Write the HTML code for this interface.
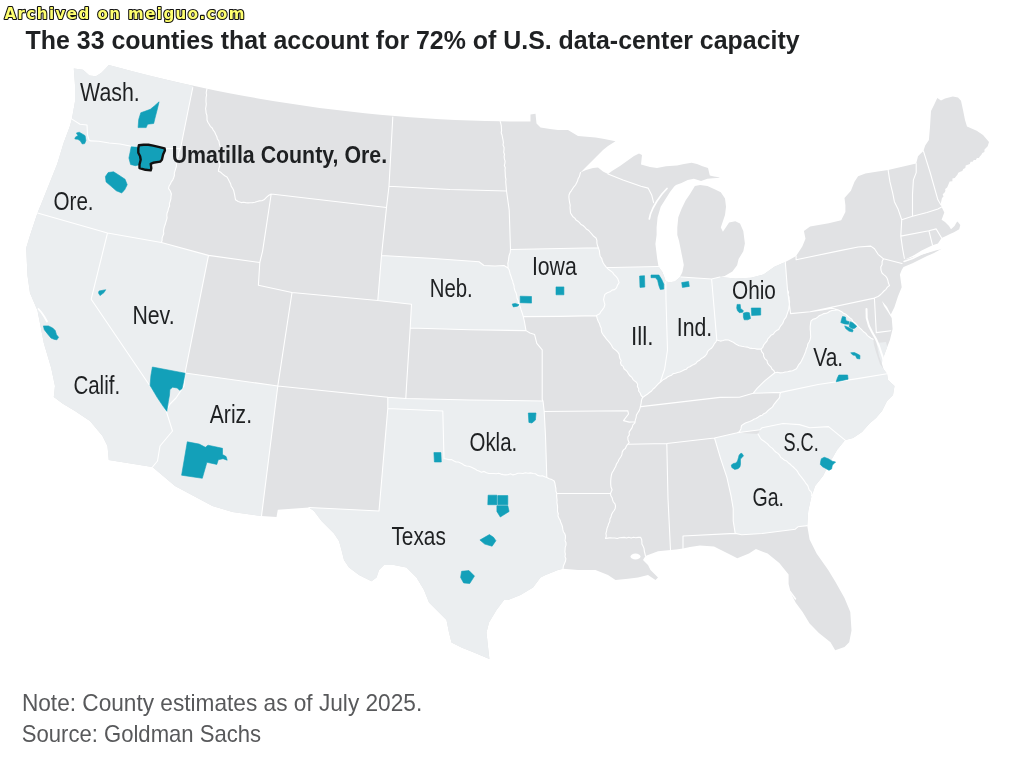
<!DOCTYPE html>
<html><head><meta charset="utf-8"><title>The 33 counties that account for 72% of U.S. data-center capacity</title>
<style>
html,body{margin:0;padding:0;background:#fff;}
body{width:1016px;height:772px;overflow:hidden;position:relative;}
svg{position:absolute;left:0;top:0;}
</style></head><body>
<svg width="1016" height="772" viewBox="0 0 1016 772">
<rect width="1016" height="772" fill="#fff"/>
<text x="25.6" y="48.8" font-family="Liberation Sans, Arial, sans-serif" font-weight="bold" font-size="26.5" fill="#1f2123" textLength="774" lengthAdjust="spacingAndGlyphs">The 33 counties that account for 72% of U.S. data-center capacity</text>
<path d="M73.8,68.6 83.0,69.7 89.4,75.5 95.9,76.2 101.1,73.0 105.6,68.4 108.8,65.0 108.8,64.9 123.9,69.0 138.9,73.0 154.0,76.7 169.0,80.3 184.1,83.8 199.2,87.1 214.2,90.2 229.3,93.2 244.3,96.0 259.4,98.7 274.5,101.2 289.5,103.6 304.6,105.8 319.6,107.9 334.7,109.8 349.8,111.6 364.8,113.3 379.9,114.7 395.0,116.1 410.0,117.3 425.1,118.3 440.1,119.2 455.2,119.9 470.3,120.5 485.3,121.0 500.4,121.3 515.4,121.5 530.5,121.5 530.5,114.5 535.5,113.8 536.5,123.5 540.5,127.5 550.0,129.0 558.0,130.0 568.0,130.0 578.0,136.0 595.5,137.5 603.0,138.8 615.5,141.2 608.0,146.0 603.0,150.0 597.0,156.0 590.5,162.5 585.0,168.0 580.5,172.5 586.0,170.0 593.0,168.0 598.0,167.5 603.0,171.5 608.0,174.0 612.0,171.0 620.0,166.0 627.0,161.0 634.0,156.0 639.0,153.6 642.0,155.0 641.0,164.5 650.0,167.0 657.0,168.0 666.0,166.3 677.0,165.4 684.0,164.0 691.6,162.7 697.0,164.0 702.5,166.3 708.0,168.0 709.8,175.4 714.0,176.5 718.8,177.2 719.8,177.8 713.0,178.3 707.4,178.8 701.1,180.9 693.9,178.8 687.7,179.9 681.5,183.0 676.0,185.0 674.2,186.5 670.0,192.0 665.9,198.5 660.7,206.8 657.6,217.2 656.6,227.5 656.6,235.0 655.4,244.0 657.2,258.8 658.5,266.5 662.4,271.9 664.5,277.5 665.8,281.5 670.0,282.2 674.8,281.5 679.6,277.4 681.0,275.0 682.4,271.9 683.8,265.0 682.6,258.8 679.0,240.7 677.3,235.0 677.3,227.5 678.3,217.2 681.5,208.9 685.6,200.6 689.7,194.4 694.9,186.1 700.1,185.1 707.4,186.1 714.6,189.2 720.8,192.3 725.0,198.5 726.0,206.8 725.0,215.1 722.9,221.3 720.8,227.5 722.9,231.7 729.1,222.4 735.3,221.3 740.0,223.4 743.3,231.0 744.9,243.5 743.3,251.3 738.6,259.0 737.1,265.3 732.4,271.5 724.7,276.1 720.0,277.0 735.5,278.5 751.0,277.7 763.5,274.6 774.4,266.8 785.3,262.1 790.0,259.5 796.1,256.0 802.3,246.6 805.5,238.8 803.9,231.1 810.1,226.4 828.8,223.3 841.2,220.2 845.4,212.0 845.4,205.3 844.5,198.0 850.9,190.8 854.5,181.7 858.1,176.3 865.4,173.6 876.3,171.7 888.1,169.9 916.2,163.6 918.0,156.3 920.7,153.6 923.4,150.9 925.2,145.4 928.9,140.0 930.0,127.0 931.0,111.0 934.5,104.0 937.3,98.1 941.0,100.5 945.0,98.5 952.8,96.6 958.0,97.5 961.0,100.7 963.0,110.0 965.0,120.0 967.0,126.6 976.7,130.8 983.0,135.0 989.0,142.0 988.3,144.2 987.7,146.3 986.0,148.0 984.5,149.5 984.4,151.9 982.3,152.9 981.4,154.8 980.0,156.3 978.9,158.1 976.9,158.1 975.8,159.9 973.8,160.1 972.6,161.7 970.6,161.8 969.8,163.9 967.8,164.8 965.7,165.6 965.3,168.1 963.3,169.0 962.3,170.9 960.2,171.7 958.3,172.7 957.4,174.7 956.1,176.3 954.8,177.9 952.4,178.4 952.4,181.3 949.7,181.5 948.8,183.5 948.0,185.6 947.1,187.6 945.2,189.0 945.4,191.1 944.4,192.7 942.7,194.2 943.5,196.4 942.0,197.9 941.6,199.8 941.0,202.4 941.0,205.0 941.6,207.1 944.3,212.5 941.6,219.8 945.0,222.0 949.0,226.0 951.0,229.2 954.5,226.0 956.5,222.5 957.5,221.5 960.3,225.0 959.2,229.2 954.0,232.3 950.0,234.0 946.0,236.0 941.6,238.0 937.9,243.4 932.5,245.2 921.6,250.6 912.5,256.1 904.4,259.7 941.6,248.8 934.0,253.0 927.0,256.1 912.5,263.3 903.5,267.0 901.7,270.0 899.9,274.5 901.7,287.2 898.0,296.3 894.4,307.2 890.8,314.4 887.0,307.0 882.0,301.0 884.0,306.0 888.0,312.0 891.7,318.0 892.6,329.0 889.9,339.9 887.2,347.1 884.4,354.4 881.7,363.0 883.5,369.0 887.0,373.7 888.0,380.0 894.5,386.0 893.0,395.0 887.0,401.0 882.0,411.0 876.0,418.0 869.5,423.5 862.0,432.0 853.0,438.0 845.1,440.1 837.0,450.0 829.5,463.0 823.0,476.0 815.0,486.0 813.0,492.0 811.5,496.0 808.2,511.0 807.2,525.6 809.6,539.6 816.6,553.6 828.2,570.0 835.2,581.6 844.5,597.9 850.3,611.9 851.5,630.5 849.2,642.2 844.5,646.9 835.2,650.3 830.5,642.2 818.9,632.9 809.6,623.5 802.6,611.9 795.6,602.6 790.9,593.2 788.6,583.9 788.6,574.6 779.3,562.9 767.6,553.6 755.9,549.0 749.0,553.6 737.3,558.3 728.0,553.6 714.0,546.6 700.0,545.5 690.0,547.0 683.0,548.5 676.0,549.5 670.5,550.0 658.0,551.2 648.0,555.0 645.5,556.0 643.0,560.0 648.0,565.0 650.5,570.0 658.0,577.5 655.5,580.0 648.0,575.0 638.0,577.5 628.0,578.8 615.5,580.0 608.0,575.0 595.5,570.0 578.0,570.0 563.0,568.8 558.0,570.0 545.5,575.0 540.5,577.5 533.0,587.5 520.5,595.0 508.0,600.0 504.0,600.0 496.5,610.0 489.0,622.5 486.5,632.5 487.8,645.0 489.4,659.0 474.0,652.5 461.5,647.5 451.5,642.5 449.0,632.5 446.5,620.0 439.0,612.5 429.0,602.5 424.0,590.0 416.5,577.5 406.5,567.5 394.0,565.0 384.0,565.0 379.0,570.0 376.5,577.5 371.5,581.2 359.0,575.0 349.0,567.5 344.0,560.0 341.5,550.0 339.0,541.0 334.0,533.5 321.5,521.0 314.0,511.0 309.0,507.5 277.8,509.8 276.5,517.0 261.5,516.0 254.0,515.0 232.5,512.0 212.5,506.0 175.0,486.0 152.5,467.0 108.8,460.0 107.5,446.0 102.5,436.0 90.0,421.0 75.0,411.0 62.5,403.5 53.8,397.0 55.0,386.0 51.2,368.0 43.8,343.0 37.5,310.5 30.0,293.0 27.5,275.5 26.2,248.0 30.0,235.5 37.5,213.0 38.7,210.0 40.7,205.2 49.0,184.5 57.3,163.7 63.6,143.0 69.8,126.4 71.9,119.1 75.0,101.5 75.0,84.9 73.8,68.6Z" fill="#e1e2e4"/>
<path d="M73.8,68.6 83.0,69.7 89.4,75.5 95.9,76.2 101.1,73.0 105.6,68.4 108.8,65.0 108.8,64.9 125.6,69.5 142.4,73.8 159.2,78.0 176.0,82.0 192.8,85.7 192.8,87.5 188.5,108.5 182.8,137.0 180.5,148.5 170.0,148.5 160.0,148.5 150.0,148.0 140.0,147.0 130.0,146.0 120.0,144.0 109.2,143.0 98.8,141.2 90.6,140.9 89.0,140.0 87.5,135.0 87.0,125.0 80.0,124.3 71.9,119.1 75.0,101.5 75.0,84.9 73.8,68.6Z M71.9,119.1 80.0,124.3 87.0,125.0 87.5,135.0 89.0,140.0 90.6,140.9 98.8,141.2 109.2,143.0 120.0,144.0 130.0,146.0 140.0,147.0 150.0,148.0 160.0,148.5 170.0,148.5 180.5,148.5 179.5,150.7 178.8,152.9 178.8,155.3 177.8,157.4 177.4,159.7 177.0,162.0 176.4,164.2 176.4,166.5 175.7,168.7 175.0,170.9 174.3,173.1 174.4,175.5 173.7,177.7 172.8,179.8 171.3,181.8 170.4,184.0 169.1,186.0 168.5,188.4 170.3,191.0 171.4,194.0 171.0,196.4 170.9,198.9 170.2,201.2 169.4,203.5 169.6,206.0 168.5,208.3 168.0,210.7 167.1,213.0 166.8,215.4 167.1,217.9 166.4,220.3 165.7,222.6 165.1,224.8 164.3,226.9 163.8,229.1 163.5,231.4 163.8,233.8 162.8,235.9 162.1,238.0 162.1,240.3 161.4,242.5 107.5,233.0 37.5,213.0 38.7,210.0 40.7,205.2 49.0,184.5 57.3,163.7 63.6,143.0 69.8,126.4 71.9,119.1Z M37.5,213.0 107.5,233.0 91.2,299.2 150.0,386.0 166.2,411.0 172.5,431.0 160.0,446.0 157.5,461.0 152.5,467.0 108.8,460.0 107.5,446.0 102.5,436.0 90.0,421.0 75.0,411.0 62.5,403.5 53.8,397.0 55.0,386.0 51.2,368.0 43.8,343.0 37.5,310.5 30.0,293.0 27.5,275.5 26.2,248.0 30.0,235.5 37.5,213.0Z M107.5,233.0 161.4,242.5 208.5,255.4 185.0,373.0 184.0,386.0 176.0,398.0 170.0,404.0 166.2,411.0 150.0,386.0 91.2,299.2 107.5,233.0Z M185.0,373.0 277.8,386.0 261.5,516.0 254.0,515.0 232.5,512.0 212.5,506.0 175.0,486.0 152.5,467.0 157.5,461.0 160.0,446.0 172.5,431.0 166.2,411.0 170.0,404.0 176.0,398.0 184.0,386.0 185.0,373.0Z M381.5,255.5 430.0,258.3 479.0,261.8 484.0,265.5 495.0,266.0 504.0,265.5 508.0,268.0 509.1,269.8 509.7,272.1 510.2,274.3 511.1,276.5 511.7,278.8 512.7,281.0 513.1,283.3 514.0,285.5 514.2,287.9 514.9,290.5 516.1,293.1 516.8,295.7 517.0,298.1 518.0,300.2 518.5,302.5 519.4,304.7 520.4,307.3 521.1,309.9 522.0,312.5 523.3,316.6 524.5,322.0 526.0,330.6 470.0,329.8 410.2,328.0 411.5,304.2 377.8,300.5 381.5,255.5Z M510.5,249.5 598.4,247.8 599.4,250.9 599.7,254.2 600.2,256.5 601.7,258.4 602.3,260.7 603.3,263.0 604.7,265.2 606.2,267.2 608.2,269.1 610.4,270.7 612.6,272.4 614.1,274.7 616.2,276.6 617.8,278.8 619.1,282.7 617.5,285.1 616.5,287.9 614.6,289.6 612.0,290.1 610.1,291.8 607.3,292.7 604.9,294.4 604.1,297.0 603.6,299.6 604.2,302.2 604.9,304.7 604.0,307.5 602.3,309.9 600.8,311.7 599.7,313.8 596.5,315.6 560.0,316.4 523.3,316.6 522.0,312.5 521.1,309.9 520.4,307.3 519.4,304.7 518.5,302.5 518.0,300.2 517.0,298.1 516.8,295.7 516.1,293.1 514.9,290.5 514.2,287.9 514.0,285.5 513.1,283.3 512.7,281.0 511.7,278.8 511.1,276.5 510.2,274.3 509.7,272.1 509.1,269.8 508.0,268.0 508.0,265.6 507.8,263.3 508.4,260.7 508.7,258.1 509.1,255.5 510.2,252.6 510.5,249.5Z M606.2,267.2 613.0,267.5 658.5,266.5 662.4,271.9 664.5,277.5 665.8,281.5 666.0,300.0 667.5,350.0 664.6,369.3 660.2,382.3 658.3,383.8 656.6,385.7 655.0,387.5 653.1,389.0 651.6,391.0 649.4,392.5 647.3,394.3 645.0,395.7 642.9,397.4 641.1,395.5 640.2,393.0 638.6,391.0 638.7,388.7 637.4,386.7 637.6,384.3 636.4,382.3 634.5,380.9 632.9,379.3 631.8,377.2 629.9,375.8 628.5,373.9 627.4,371.9 625.8,370.2 624.0,368.8 623.2,366.4 621.3,365.0 620.5,362.9 621.1,360.5 619.9,358.5 619.4,356.3 619.1,354.1 617.8,352.1 616.2,350.5 614.3,349.1 612.6,347.6 611.5,345.2 610.0,343.1 608.3,341.1 606.5,339.1 604.9,336.9 603.2,334.8 601.8,332.5 601.3,330.3 601.2,328.0 600.1,326.0 599.6,323.8 598.2,321.2 597.2,318.5 596.5,315.6 599.7,313.8 600.8,311.7 602.3,309.9 604.0,307.5 604.9,304.7 604.2,302.2 603.6,299.6 604.1,297.0 604.9,294.4 607.3,292.7 610.1,291.8 612.0,290.1 614.6,289.6 616.5,287.9 617.5,285.1 619.1,282.7 617.8,278.8 616.2,276.6 614.1,274.7 612.6,272.4 610.4,270.7 608.2,269.1 606.2,267.2Z M665.8,281.5 670.0,282.2 674.8,281.5 679.6,277.4 681.0,275.0 681.0,277.0 711.6,279.0 716.8,340.0 715.8,342.1 714.3,343.7 713.3,345.8 711.7,348.0 709.4,349.6 707.5,351.6 706.8,354.0 705.2,356.0 703.2,357.5 701.0,358.8 699.2,360.6 697.2,361.6 695.8,363.5 693.8,364.6 691.7,365.5 689.9,366.8 687.7,367.6 686.2,369.3 684.0,369.9 682.0,371.0 679.9,372.0 677.7,372.5 675.5,373.3 673.2,373.6 671.6,375.2 669.4,375.9 667.4,377.0 665.7,378.5 663.6,379.4 661.9,380.8 660.2,382.3 664.6,369.3 667.5,350.0 666.0,300.0 665.8,281.5Z M711.6,279.0 720.0,277.0 735.5,278.5 751.0,277.7 763.5,274.6 774.4,266.8 785.3,262.1 787.5,290.0 788.5,292.3 788.1,294.8 789.0,297.0 789.2,299.4 789.6,301.8 789.4,304.4 788.9,307.1 788.6,309.7 787.6,312.7 786.6,315.6 785.8,317.7 784.3,319.4 783.5,321.4 782.7,323.5 781.1,325.3 779.8,327.3 778.7,329.4 776.5,330.6 774.7,332.2 773.2,334.3 770.9,335.3 769.5,337.2 767.8,338.9 766.9,341.2 765.2,343.0 763.7,344.9 762.8,347.3 761.0,349.1 757.1,349.1 754.7,348.5 752.1,348.4 749.6,348.1 747.2,347.1 744.5,346.8 741.8,346.3 739.1,345.7 736.6,344.6 734.7,343.3 732.7,341.9 730.6,341.0 728.5,340.0 725.7,339.8 723.0,340.5 720.3,341.1 716.8,340.0 711.6,279.0Z M387.8,397.2 405.8,398.5 470.0,400.0 543.0,401.0 544.2,411.5 545.5,436.0 546.8,477.5 544.6,476.8 542.4,475.8 540.0,476.0 537.6,475.4 535.5,473.7 533.0,473.5 530.5,472.9 528.0,473.2 525.5,472.7 523.0,473.5 520.5,473.3 517.9,473.3 515.5,474.2 513.0,474.9 510.4,473.8 508.0,474.8 505.6,474.9 503.3,474.6 500.9,474.1 498.6,473.3 496.2,473.7 493.9,473.5 491.5,473.5 488.9,473.5 486.5,472.7 484.1,471.4 481.4,472.2 479.0,471.0 476.9,470.2 475.0,468.9 473.0,467.9 470.9,467.0 468.8,466.2 466.5,466.0 464.3,465.4 462.5,464.0 460.5,463.0 458.4,462.0 456.0,462.0 454.0,461.0 451.7,459.6 449.0,459.6 446.5,459.0 444.0,458.5 442.8,411.0 387.8,408.5 387.8,397.2Z M387.8,408.5 442.8,411.0 444.0,458.5 446.5,459.0 449.0,459.6 451.7,459.6 454.0,461.0 456.0,462.0 458.4,462.0 460.5,463.0 462.5,464.0 464.3,465.4 466.5,466.0 468.8,466.2 470.9,467.0 473.0,467.9 475.0,468.9 476.9,470.2 479.0,471.0 481.4,472.2 484.1,471.4 486.5,472.7 488.9,473.5 491.5,473.5 493.9,473.5 496.2,473.7 498.6,473.3 500.9,474.1 503.3,474.6 505.6,474.9 508.0,474.8 510.4,473.8 513.0,474.9 515.5,474.2 517.9,473.3 520.5,473.3 523.0,473.5 525.5,472.7 528.0,473.2 530.5,472.9 533.0,473.5 535.5,473.7 537.6,475.4 540.0,476.0 542.4,475.8 544.6,476.8 546.8,477.5 549.3,478.7 551.9,479.6 554.2,481.0 555.0,483.5 555.3,486.0 555.9,488.5 555.9,491.1 556.8,493.5 556.6,495.8 556.8,498.0 557.1,500.3 556.9,502.5 557.3,504.8 557.6,507.0 557.5,509.3 557.5,511.5 558.3,513.7 558.0,516.0 559.0,518.2 560.2,520.3 560.8,522.6 561.8,524.7 562.5,527.0 562.8,529.4 563.4,531.7 564.8,533.7 565.5,536.0 565.4,538.3 565.0,540.5 566.0,542.8 566.0,545.1 565.2,547.4 565.1,549.6 564.9,551.9 565.4,554.2 565.0,556.5 565.9,558.7 565.5,561.0 564.5,563.5 563.4,566.0 563.0,568.8 558.0,570.0 545.5,575.0 540.5,577.5 533.0,587.5 520.5,595.0 508.0,600.0 504.0,600.0 496.5,610.0 489.0,622.5 486.5,632.5 487.8,645.0 489.4,659.0 474.0,652.5 461.5,647.5 451.5,642.5 449.0,632.5 446.5,620.0 439.0,612.5 429.0,602.5 424.0,590.0 416.5,577.5 406.5,567.5 394.0,565.0 384.0,565.0 379.0,570.0 376.5,577.5 371.5,581.2 359.0,575.0 349.0,567.5 344.0,560.0 341.5,550.0 339.0,541.0 334.0,533.5 321.5,521.0 314.0,511.0 309.0,507.5 379.0,511.0 387.8,408.5Z M837.8,309.7 841.7,311.7 843.6,313.3 845.9,314.3 847.7,316.0 849.6,317.6 851.7,319.1 852.9,321.5 855.0,323.0 856.6,324.6 858.1,326.3 859.7,327.9 861.4,329.4 863.3,331.5 865.6,333.1 867.3,335.3 869.1,336.8 871.0,338.2 873.2,339.2 874.0,345.0 876.0,352.0 878.0,358.0 880.0,364.0 883.5,369.0 887.0,373.7 857.5,378.6 818.1,384.5 780.8,392.4 753.1,393.3 757.1,388.4 765.0,380.6 774.8,372.7 777.4,372.2 780.1,372.9 782.7,372.7 785.1,372.0 787.6,371.7 790.0,371.1 792.5,370.7 794.5,369.8 796.5,368.7 797.6,366.7 798.7,364.7 800.3,363.0 801.4,361.0 802.4,358.9 803.6,356.5 804.6,354.1 805.6,351.7 806.3,349.1 807.4,346.7 807.8,344.0 809.3,341.7 810.2,339.2 810.7,336.8 810.5,334.3 810.5,331.8 810.2,329.4 810.2,326.6 810.5,323.8 811.0,321.0 812.9,319.3 815.5,318.6 817.6,317.2 819.5,315.5 821.7,314.8 823.6,313.6 825.9,313.4 828.0,312.5 829.9,311.2 832.0,310.5 834.9,310.3 837.8,309.7Z M876.5,343.0 886.0,342.0 887.2,347.1 884.4,354.4 881.7,363.0 879.0,356.0Z M780.8,392.4 818.1,384.5 857.5,378.6 887.0,373.7 888.0,380.0 894.5,386.0 893.0,395.0 887.0,401.0 882.0,411.0 876.0,418.0 869.5,423.5 862.0,432.0 853.0,438.0 845.1,440.1 828.5,426.6 809.8,427.7 799.5,424.6 782.9,423.5 762.2,427.7 760.1,429.7 737.3,432.8 739.4,431.8 740.9,428.9 741.5,425.6 743.4,424.2 745.4,423.1 747.5,422.3 749.7,421.5 751.9,420.6 753.8,419.2 756.0,418.5 758.0,417.3 759.9,415.9 762.2,415.2 763.8,413.7 765.9,412.8 767.4,411.1 769.0,409.6 770.8,408.3 772.5,406.9 773.8,404.7 775.4,402.6 777.0,400.6 778.8,398.7 779.8,396.7 779.8,394.4 780.8,392.4Z M760.1,429.7 762.2,427.7 782.9,423.5 799.5,424.6 809.8,427.7 828.5,426.6 845.1,440.1 837.0,450.0 829.5,463.0 823.0,476.0 815.0,486.0 813.0,492.0 811.5,496.0 811.9,494.0 811.2,491.8 809.3,490.1 808.5,487.9 807.8,485.7 806.1,483.7 804.7,481.5 803.2,479.4 801.6,477.4 800.2,475.7 798.8,473.9 797.8,471.9 796.5,470.1 794.9,468.6 793.3,467.0 791.6,465.6 790.0,464.0 788.2,462.7 786.7,461.1 784.6,460.3 782.9,458.8 780.8,457.4 779.6,455.2 777.9,453.4 775.8,452.0 774.1,450.3 772.5,448.4 770.7,447.1 769.0,445.7 767.6,443.9 765.9,442.6 764.1,441.2 762.2,440.1 760.4,438.3 759.2,436.1 758.0,433.9Z M737.3,432.8 758.0,433.9 759.2,436.1 760.4,438.3 762.2,440.1 764.1,441.2 765.9,442.6 767.6,443.9 769.0,445.7 770.7,447.1 772.5,448.4 774.1,450.3 775.8,452.0 777.9,453.4 779.6,455.2 780.8,457.4 782.9,458.8 784.6,460.3 786.7,461.1 788.2,462.7 790.0,464.0 791.6,465.6 793.3,467.0 794.9,468.6 796.5,470.1 797.8,471.9 798.8,473.9 800.2,475.7 801.6,477.4 803.2,479.4 804.7,481.5 806.1,483.7 807.8,485.7 808.5,487.9 809.3,490.1 811.2,491.8 811.9,494.0 811.5,496.0 808.2,511.0 807.2,525.6 797.9,526.8 795.3,529.2 762.0,533.5 741.8,534.8 735.2,533.4 733.2,520.9 733.2,508.5 731.1,496.1 726.9,477.4 720.7,458.8 714.5,438.0 737.3,432.8Z" fill="#ebeef0"/>
<path d="M71.9,119.1 80.0,124.3 87.0,125.0 87.5,135.0 89.0,140.0 90.6,140.9 98.8,141.2 109.2,143.0 120.0,144.0 130.0,146.0 140.0,147.0 150.0,148.0 160.0,148.5 170.0,148.5 180.5,148.5 M180.5,148.5 182.8,137.0 188.5,108.5 192.8,87.5 M180.5,148.5 179.5,150.7 178.8,152.9 178.8,155.3 177.8,157.4 177.4,159.7 177.0,162.0 176.4,164.2 176.4,166.5 175.7,168.7 175.0,170.9 174.3,173.1 174.4,175.5 173.7,177.7 172.8,179.8 171.3,181.8 170.4,184.0 169.1,186.0 168.5,188.4 170.3,191.0 171.4,194.0 171.0,196.4 170.9,198.9 170.2,201.2 169.4,203.5 169.6,206.0 168.5,208.3 168.0,210.7 167.1,213.0 166.8,215.4 167.1,217.9 166.4,220.3 165.7,222.6 165.1,224.8 164.3,226.9 163.8,229.1 163.5,231.4 163.8,233.8 162.8,235.9 162.1,238.0 162.1,240.3 161.4,242.5 M37.5,213.0 107.5,233.0 161.4,242.5 M161.4,242.5 208.5,255.4 M208.5,255.4 259.8,262.5 M107.5,233.0 91.2,299.2 150.0,386.0 166.2,411.0 M166.2,411.0 172.5,431.0 160.0,446.0 157.5,461.0 152.5,467.0 M208.5,255.4 185.0,373.0 M185.0,373.0 184.0,386.0 176.0,398.0 170.0,404.0 166.2,411.0 M185.0,373.0 277.8,386.0 M277.8,386.0 261.5,516.0 M207.0,88.6 206.5,90.8 206.2,93.0 206.6,95.2 206.1,97.4 206.0,99.6 206.0,101.9 206.3,104.1 206.0,106.3 205.6,108.5 205.9,110.8 206.1,113.1 206.9,115.3 207.0,117.7 207.0,120.0 207.9,122.2 209.2,124.2 210.3,126.3 212.2,128.0 213.2,130.1 214.7,132.0 215.6,134.2 216.8,136.5 217.4,139.0 218.9,141.1 219.3,143.7 220.0,146.2 221.3,148.4 220.9,150.8 221.3,153.3 220.9,155.7 220.4,158.2 220.0,160.6 219.7,163.0 219.9,165.5 218.9,168.3 218.4,171.2 220.8,172.3 222.7,174.1 224.7,175.7 227.0,177.0 228.3,179.2 229.4,181.5 230.6,183.7 231.2,186.3 232.7,188.4 233.7,190.6 234.2,192.9 234.7,195.2 235.1,197.5 235.5,199.8 238.2,201.5 241.2,202.6 243.5,202.2 245.8,202.6 248.0,202.9 250.3,202.7 252.6,202.6 254.9,202.2 257.2,201.5 259.4,200.9 261.8,200.8 264.0,199.8 266.9,196.9 268.9,195.3 271.2,194.0 M271.2,194.0 266.9,222.6 262.6,251.1 259.8,262.5 M259.8,262.5 258.4,285.3 292.0,292.5 M292.0,292.5 377.8,300.5 M292.0,292.5 277.8,386.0 M277.8,386.0 387.8,397.2 M271.2,194.0 386.5,207.5 M392.8,117.0 389.0,186.2 M389.0,186.2 386.5,207.5 M389.0,186.2 450.0,189.5 506.5,191.0 M500.2,121.3 500.8,123.5 501.3,125.8 501.4,128.1 501.6,130.4 501.2,132.8 502.0,135.0 502.5,137.5 503.0,140.0 503.4,142.4 503.0,145.0 504.1,147.4 504.0,150.0 503.7,152.2 504.5,154.4 504.1,156.7 504.4,158.9 505.1,161.1 504.9,163.3 504.3,165.6 505.3,167.8 505.0,170.0 505.2,172.3 505.3,174.7 505.4,177.0 506.0,179.3 505.7,181.7 505.9,184.0 506.1,186.3 506.3,188.7 506.5,191.0 M506.5,191.0 509.2,210.0 510.5,249.5 M386.5,207.5 381.5,255.5 M381.5,255.5 377.8,300.5 M381.5,255.5 430.0,258.3 479.0,261.8 484.0,265.5 495.0,266.0 504.0,265.5 508.0,268.0 M510.5,249.5 510.2,252.6 509.1,255.5 508.7,258.1 508.4,260.7 507.8,263.3 508.0,265.6 508.0,268.0 M510.5,249.5 598.4,247.8 M580.5,172.5 579.9,174.7 579.3,176.8 578.1,178.8 577.5,181.0 576.5,183.0 575.5,185.0 573.9,186.8 572.6,188.8 571.3,190.8 569.9,192.7 569.0,195.0 568.9,197.5 569.2,200.0 569.6,202.6 570.2,205.2 570.0,207.8 570.3,210.4 570.5,213.0 571.7,214.9 572.9,216.8 574.8,218.1 576.0,220.0 577.9,221.2 579.5,222.7 581.0,224.5 583.0,225.5 584.8,227.1 586.3,229.0 588.4,230.2 590.0,232.0 591.9,234.1 593.7,236.3 596.0,238.0 596.9,240.4 596.9,243.0 597.4,245.5 598.4,247.8 M608.0,174.0 623.0,180.0 640.9,186.3 648.1,188.1 651.8,195.3 653.6,202.6 M598.4,247.8 599.4,250.9 599.7,254.2 600.2,256.5 601.7,258.4 602.3,260.7 603.3,263.0 604.7,265.2 606.2,267.2 M606.2,267.2 613.0,267.5 658.5,266.5 M606.2,267.2 608.2,269.1 610.4,270.7 612.6,272.4 614.1,274.7 616.2,276.6 617.8,278.8 619.1,282.7 617.5,285.1 616.5,287.9 614.6,289.6 612.0,290.1 610.1,291.8 607.3,292.7 604.9,294.4 604.1,297.0 603.6,299.6 604.2,302.2 604.9,304.7 604.0,307.5 602.3,309.9 600.8,311.7 599.7,313.8 596.5,315.6 M508.0,268.0 509.1,269.8 509.7,272.1 510.2,274.3 511.1,276.5 511.7,278.8 512.7,281.0 513.1,283.3 514.0,285.5 514.2,287.9 514.9,290.5 516.1,293.1 516.8,295.7 517.0,298.1 518.0,300.2 518.5,302.5 519.4,304.7 520.4,307.3 521.1,309.9 522.0,312.5 523.3,316.6 M523.3,316.6 560.0,316.4 596.5,315.6 M523.3,316.6 524.5,322.0 526.0,330.6 M410.2,328.0 470.0,329.8 526.0,330.6 M377.8,300.5 411.5,304.2 410.2,328.0 M410.2,328.0 406.5,386.0 405.8,398.5 M526.0,330.6 530.0,333.0 534.6,334.6 536.8,343.3 542.2,349.8 542.2,399.6 543.0,401.0 M405.8,398.5 470.0,400.0 543.0,401.0 M387.8,397.2 405.8,398.5 M387.8,397.2 387.8,408.5 M387.8,408.5 442.8,411.0 444.0,458.5 M387.8,408.5 379.0,511.0 309.0,507.5 M444.0,458.5 446.5,459.0 449.0,459.6 451.7,459.6 454.0,461.0 456.0,462.0 458.4,462.0 460.5,463.0 462.5,464.0 464.3,465.4 466.5,466.0 468.8,466.2 470.9,467.0 473.0,467.9 475.0,468.9 476.9,470.2 479.0,471.0 481.4,472.2 484.1,471.4 486.5,472.7 488.9,473.5 491.5,473.5 493.9,473.5 496.2,473.7 498.6,473.3 500.9,474.1 503.3,474.6 505.6,474.9 508.0,474.8 510.4,473.8 513.0,474.9 515.5,474.2 517.9,473.3 520.5,473.3 523.0,473.5 525.5,472.7 528.0,473.2 530.5,472.9 533.0,473.5 535.5,473.7 537.6,475.4 540.0,476.0 542.4,475.8 544.6,476.8 546.8,477.5 M543.0,401.0 544.2,411.5 M544.2,411.5 545.5,436.0 546.8,477.5 M546.8,477.5 549.3,478.7 551.9,479.6 554.2,481.0 555.0,483.5 555.3,486.0 555.9,488.5 555.9,491.1 556.8,493.5 M556.8,493.5 556.6,495.8 556.8,498.0 557.1,500.3 556.9,502.5 557.3,504.8 557.6,507.0 557.5,509.3 557.5,511.5 558.3,513.7 558.0,516.0 559.0,518.2 560.2,520.3 560.8,522.6 561.8,524.7 562.5,527.0 562.8,529.4 563.4,531.7 564.8,533.7 565.5,536.0 565.4,538.3 565.0,540.5 566.0,542.8 566.0,545.1 565.2,547.4 565.1,549.6 564.9,551.9 565.4,554.2 565.0,556.5 565.9,558.7 565.5,561.0 564.5,563.5 563.4,566.0 563.0,568.8 M544.2,411.5 627.8,410.7 628.5,414.0 623.5,420.6 629.2,422.1 634.9,421.8 M556.8,493.5 610.5,493.5 M642.9,397.4 642.0,398.6 641.4,400.9 641.1,403.3 640.6,405.7 640.0,408.2 639.2,410.6 637.8,412.8 636.4,415.1 636.1,417.7 635.3,420.2 634.9,422.8 632.9,424.8 632.1,427.6 630.6,429.9 629.1,432.1 629.3,434.9 627.8,437.0 628.0,440.0 629.2,442.7 627.6,444.3 626.3,446.3 625.4,448.5 623.5,449.9 622.2,452.1 621.9,454.7 620.7,457.0 619.1,459.3 618.0,461.8 616.4,464.1 615.7,466.5 614.5,468.5 613.4,470.7 612.1,472.7 611.3,475.5 610.9,478.3 610.7,481.2 610.7,484.1 611.0,487.0 612.1,489.8 610.5,493.5 610.9,495.8 612.1,497.7 612.6,499.9 613.4,502.0 615.0,503.8 615.5,506.0 615.2,508.4 614.1,510.5 612.6,512.5 611.5,514.7 611.0,517.0 609.9,519.1 609.8,521.6 608.6,523.7 608.0,526.0 607.0,528.4 606.6,530.9 605.9,533.4 606.3,536.1 605.5,538.5 M605.5,538.5 607.8,538.1 610.1,537.8 612.5,538.0 614.8,538.0 617.2,538.5 619.5,537.8 621.8,537.6 624.2,537.4 626.5,538.0 628.8,537.2 631.2,538.0 633.5,537.2 635.8,537.7 638.2,537.4 640.5,537.2 641.6,539.3 641.9,541.6 641.9,543.9 643.0,546.0 644.0,548.4 644.3,551.0 644.9,553.5 645.5,556.0 M596.5,315.6 597.2,318.5 598.2,321.2 599.6,323.8 600.1,326.0 601.2,328.0 601.3,330.3 601.8,332.5 603.2,334.8 604.9,336.9 606.5,339.1 608.3,341.1 610.0,343.1 611.5,345.2 612.6,347.6 614.3,349.1 616.2,350.5 617.8,352.1 619.1,354.1 619.4,356.3 619.9,358.5 621.1,360.5 620.5,362.9 621.3,365.0 623.2,366.4 624.0,368.8 625.8,370.2 627.4,371.9 628.5,373.9 629.9,375.8 631.8,377.2 632.9,379.3 634.5,380.9 636.4,382.3 637.6,384.3 637.4,386.7 638.7,388.7 638.6,391.0 640.2,393.0 641.1,395.5 642.9,397.4 M665.8,281.5 666.0,300.0 667.5,350.0 664.6,369.3 660.2,382.3 M660.2,382.3 658.3,383.8 656.6,385.7 655.0,387.5 653.1,389.0 651.6,391.0 649.4,392.5 647.3,394.3 645.0,395.7 642.9,397.4 M660.2,382.3 661.9,380.8 663.6,379.4 665.7,378.5 667.4,377.0 669.4,375.9 671.6,375.2 673.2,373.6 675.5,373.3 677.7,372.5 679.9,372.0 682.0,371.0 684.0,369.9 686.2,369.3 687.7,367.6 689.9,366.8 691.7,365.5 693.8,364.6 695.8,363.5 697.2,361.6 699.2,360.6 701.0,358.8 703.2,357.5 705.2,356.0 706.8,354.0 707.5,351.6 709.4,349.6 711.7,348.0 713.3,345.8 714.3,343.7 715.8,342.1 716.8,340.0 M681.0,277.0 711.6,279.0 M711.6,279.0 720.0,277.0 M711.6,279.0 716.8,340.0 M716.8,340.0 720.3,341.1 723.0,340.5 725.7,339.8 728.5,340.0 730.6,341.0 732.7,341.9 734.7,343.3 736.6,344.6 739.1,345.7 741.8,346.3 744.5,346.8 747.2,347.1 749.6,348.1 752.1,348.4 754.7,348.5 757.1,349.1 761.0,349.1 M785.3,262.1 787.5,290.0 M787.5,290.0 788.5,292.3 788.1,294.8 789.0,297.0 789.2,299.4 789.6,301.8 789.4,304.4 788.9,307.1 788.6,309.7 787.6,312.7 786.6,315.6 785.8,317.7 784.3,319.4 783.5,321.4 782.7,323.5 781.1,325.3 779.8,327.3 778.7,329.4 776.5,330.6 774.7,332.2 773.2,334.3 770.9,335.3 769.5,337.2 767.8,338.9 766.9,341.2 765.2,343.0 763.7,344.9 762.8,347.3 761.0,349.1 M787.5,290.0 790.6,313.6 810.2,311.7 M761.0,349.1 761.7,351.7 763.5,353.8 763.7,356.6 765.0,358.9 767.0,360.5 767.5,363.2 769.1,365.1 770.9,366.8 771.9,369.0 773.8,370.6 774.8,372.7 M774.8,372.7 777.4,372.2 780.1,372.9 782.7,372.7 785.1,372.0 787.6,371.7 790.0,371.1 792.5,370.7 794.5,369.8 796.5,368.7 797.6,366.7 798.7,364.7 800.3,363.0 801.4,361.0 802.4,358.9 803.6,356.5 804.6,354.1 805.6,351.7 806.3,349.1 807.4,346.7 807.8,344.0 809.3,341.7 810.2,339.2 810.7,336.8 810.5,334.3 810.5,331.8 810.2,329.4 810.2,326.6 810.5,323.8 811.0,321.0 812.9,319.3 815.5,318.6 817.6,317.2 819.5,315.5 821.7,314.8 823.6,313.6 825.9,313.4 828.0,312.5 829.9,311.2 832.0,310.5 834.9,310.3 837.8,309.7 M810.2,311.7 822.0,310.0 832.0,308.2 837.8,309.7 M837.8,309.7 841.7,311.7 843.6,313.3 845.9,314.3 847.7,316.0 849.6,317.6 851.7,319.1 852.9,321.5 855.0,323.0 856.6,324.6 858.1,326.3 859.7,327.9 861.4,329.4 863.3,331.5 865.6,333.1 867.3,335.3 869.1,336.8 871.0,338.2 873.2,339.2 M774.8,372.7 765.0,380.6 757.1,388.4 753.1,393.3 M753.1,393.3 780.8,392.4 M780.8,392.4 818.1,384.5 857.5,378.6 887.0,373.7 M641.0,406.6 664.6,403.9 720.0,397.4 739.4,397.3 753.1,393.3 M780.8,392.4 779.8,394.4 779.8,396.7 778.8,398.7 777.0,400.6 775.4,402.6 773.8,404.7 772.5,406.9 770.8,408.3 769.0,409.6 767.4,411.1 765.9,412.8 763.8,413.7 762.2,415.2 759.9,415.9 758.0,417.3 756.0,418.5 753.8,419.2 751.9,420.6 749.7,421.5 747.5,422.3 745.4,423.1 743.4,424.2 741.5,425.6 740.9,428.9 739.4,431.8 737.3,432.8 M628.5,444.2 666.8,443.5 714.5,438.0 737.3,432.8 M737.3,432.8 760.1,429.7 M760.1,429.7 762.2,427.7 782.9,423.5 799.5,424.6 809.8,427.7 828.5,426.6 845.1,440.1 M758.0,433.9 759.2,436.1 760.4,438.3 762.2,440.1 764.1,441.2 765.9,442.6 767.6,443.9 769.0,445.7 770.7,447.1 772.5,448.4 774.1,450.3 775.8,452.0 777.9,453.4 779.6,455.2 780.8,457.4 782.9,458.8 784.6,460.3 786.7,461.1 788.2,462.7 790.0,464.0 791.6,465.6 793.3,467.0 794.9,468.6 796.5,470.1 797.8,471.9 798.8,473.9 800.2,475.7 801.6,477.4 803.2,479.4 804.7,481.5 806.1,483.7 807.8,485.7 808.5,487.9 809.3,490.1 811.2,491.8 811.9,494.0 811.5,496.0 M666.8,443.5 668.0,498.5 670.5,550.0 M714.5,438.0 720.7,458.8 726.9,477.4 731.1,496.1 733.2,508.5 733.2,520.9 735.2,533.4 M683.0,548.5 683.0,536.0 735.2,533.4 M735.2,533.4 741.8,534.8 762.0,533.5 795.3,529.2 797.9,526.8 807.2,525.6 M810.2,311.7 874.4,298.1 M874.4,298.1 876.3,332.6 890.8,330.8 M874.4,298.1 878.0,296.5 879.5,295.5 M883.5,258.8 882.1,261.4 882.1,264.4 880.8,267.0 881.0,270.1 882.0,273.0 883.7,274.6 885.6,276.1 887.0,278.0 887.9,280.5 888.4,283.1 889.5,285.5 887.4,287.1 886.0,289.3 884.0,291.0 881.8,293.3 879.5,295.5 M796.1,256.0 796.1,259.8 840.0,250.6 858.1,247.0 870.8,246.1 874.5,248.8 878.1,254.3 883.5,258.8 M883.5,258.8 902.0,263.5 M888.1,169.9 889.9,181.7 892.6,192.6 894.4,201.7 898.0,208.9 901.7,219.8 M901.7,219.8 900.8,236.1 M900.8,236.1 902.6,248.8 904.4,258.5 M916.2,163.6 916.2,172.6 913.4,179.9 912.5,194.4 912.5,216.2 M901.7,219.8 912.5,216.2 M912.5,216.2 927.0,212.5 937.9,208.9 941.6,207.1 M923.4,150.9 930.0,172.0 937.9,199.8 941.0,205.0 M900.8,236.1 928.9,230.7 M928.9,230.7 936.1,228.9 941.6,238.0 M928.9,230.7 932.5,245.2" fill="none" stroke="#fff" stroke-width="1.1" stroke-linejoin="round" stroke-linecap="round"/>
<path d="M866.5,309 L866.7,318 869,326 872,332 876,339 879,346 881,352 883,358 884,364" fill="none" stroke="#fff" stroke-width="2.0" stroke-linecap="round" stroke-linejoin="round"/>
<path d="M904,261.5 L912.5,258.5 921.6,254 934,249.5 940,248.5" fill="none" stroke="#fff" stroke-width="1.4" stroke-linecap="round" stroke-linejoin="round"/>
<path d="M790,591.5 L793,595.5 795.5,599" fill="none" stroke="#fff" stroke-width="1.5" stroke-linecap="round" stroke-linejoin="round"/>
<path d="M667,188.5 L662,194 657,201 653,208 650.5,214 649.3,219" fill="none" stroke="#fff" stroke-width="1.7" stroke-linecap="round" stroke-linejoin="round"/>
<path d="M38.5,309 L41.5,312.5 44.5,317 47,321.5" fill="none" stroke="#fff" stroke-width="1.8" stroke-linecap="round"/>
<ellipse cx="635.5" cy="556.5" rx="5" ry="3" fill="#fff"/>
<path d="M159.1,101.8 157.1,110.0 155.0,118.1 153.7,123.5 147.6,124.2 146.2,127.6 138.1,127.6 138.7,119.5 140.8,112.7 144.9,111.3 150.3,109.3 154.4,105.9Z M76.4,133.0 79.2,132.2 82.7,134.2 85.1,135.7 85.9,140.5 84.7,143.6 82.3,144.0 80.0,140.5 77.6,139.3 74.8,138.9 75.6,136.9 78.0,135.7Z M131.2,146.8 138.5,147.2 139.0,152.7 140.8,156.3 141.4,159.8 140.5,164.5 135.4,165.7 130.6,164.5 128.9,158.0 130.0,152.7Z M108.2,172.5 113.6,171.8 119.0,175.2 125.1,179.3 127.2,184.7 124.5,190.1 121.7,192.9 116.3,190.8 110.9,186.1 106.1,182.0 105.4,176.6Z M43.4,325.9 48.5,325.9 52.7,328.0 55.2,330.5 56.5,334.7 58.6,337.3 56.9,339.8 54.4,339.4 51.0,338.1 47.6,333.9 44.3,329.7Z M99.0,291.0 105.7,289.7 104.0,292.6 100.0,295.6 98.5,293.0Z M152.4,367.0 185.1,373.2 183.5,381.8 182.0,388.7 179.6,390.3 177.3,388.0 172.6,387.2 169.9,389.5 169.5,395.0 168.4,401.2 166.8,411.3 163.3,406.6 157.1,397.3 150.1,385.6 150.9,375.5Z M187.3,441.8 199.2,444.1 205.4,447.3 208.0,445.2 222.5,448.3 222.5,454.5 226.1,456.6 227.2,460.2 223.0,458.7 218.3,459.7 216.8,464.4 206.9,462.3 202.3,478.3 181.6,475.2Z M433.9,452.6 440.9,452.6 441.3,462.0 434.4,462.0Z M528.3,413.0 536.0,413.0 535.4,420.1 531.9,423.0 528.9,422.4Z M488.1,495.2 496.9,495.2 496.9,504.7 487.8,504.7Z M497.8,495.6 507.8,495.6 507.8,504.7 497.8,504.7Z M496.9,505.7 507.8,505.7 509.1,511.5 500.3,517.0 496.9,511.5Z M479.9,540.0 489.4,534.6 493.5,537.3 495.9,540.7 492.1,546.2 484.7,544.1Z M461.6,571.3 469.0,570.6 474.5,576.1 469.7,583.5 463.6,582.9 460.6,577.4Z M512.2,304.1 515.3,303.4 519.1,304.8 517.4,306.2 513.3,306.9Z M520.2,296.2 531.5,296.5 531.5,303.1 520.2,302.7Z M556.0,286.9 563.9,286.9 563.9,294.8 556.0,294.8Z M639.6,276.0 644.5,275.7 644.8,287.1 640.0,287.4Z M651.0,275.0 658.9,275.0 661.7,279.5 663.8,284.3 663.8,289.1 660.3,289.5 658.9,285.7 657.6,280.2 655.5,277.7 651.0,277.7Z M681.7,282.6 688.6,281.5 689.3,286.4 682.4,287.4Z M737.1,304.4 740.2,304.4 740.6,308.4 743.4,310.7 742.6,312.3 739.4,312.7 737.5,310.7 736.7,308.0Z M743.4,313.1 746.9,312.3 749.3,312.7 750.1,316.3 750.5,318.6 747.7,319.8 744.2,319.8 743.4,317.0Z M751.3,308.0 760.7,308.0 760.7,315.1 751.7,315.5Z M842.5,316.5 845.4,317.1 846.0,320.7 849.3,321.7 848.6,324.3 844.7,323.9 840.8,322.6 841.5,319.4Z M850.5,321.7 853.1,323.0 856.7,326.2 855.1,328.1 852.5,328.8 849.3,326.8 849.6,323.6Z M844.7,325.9 848.6,327.5 853.1,330.1 852.5,332.0 848.9,331.1 845.7,328.5Z M850.7,352.8 854.4,352.5 858.0,354.3 860.0,355.4 859.8,359.0 856.9,358.5 855.4,355.4 852.8,355.1Z M838.8,375.0 847.6,375.0 848.1,379.2 843.5,380.2 836.2,381.8 837.3,378.2Z M740.2,453.8 741.8,453.3 743.5,455.8 742.0,457.6 740.4,459.0 740.5,463.9 740.0,466.8 738.0,468.7 734.7,469.4 731.8,467.5 731.3,465.0 733.4,463.5 736.0,463.0 737.5,461.0 738.5,457.5 739.0,455.5Z M821.4,458.7 824.3,457.3 828.3,458.7 832.3,461.2 835.6,462.0 833.8,463.8 832.3,465.2 831.6,468.9 829.0,470.3 825.8,468.5 822.5,466.7 820.3,464.5 820.7,461.2Z" fill="#13a0b9" stroke="#13a0b9" stroke-width="0.6" stroke-linejoin="round"/>
<path d="M138.9,145.3 143.6,144.7 148.4,144.7 153.1,145.6 158.4,146.8 164.6,148.3 164.9,150.4 163.1,154.5 161.9,159.8 160.2,161.6 153.1,162.8 150.7,163.9 151.3,168.1 150.7,170.4 145.4,169.8 139.5,168.1 139.5,164.5 140.7,159.8 140.1,156.3 138.3,152.7 138.3,148.6Z" fill="#13a0b9" stroke="#111" stroke-width="2.4" stroke-linejoin="round"/>
<text x="80.10" y="100.60" font-family="Liberation Sans, Arial, sans-serif" font-size="25" fill="#1e2022" textLength="59.60" lengthAdjust="spacingAndGlyphs">Wash.</text>
<text x="53.50" y="209.60" font-family="Liberation Sans, Arial, sans-serif" font-size="25" fill="#1e2022" textLength="40.10" lengthAdjust="spacingAndGlyphs">Ore.</text>
<text x="132.40" y="323.80" font-family="Liberation Sans, Arial, sans-serif" font-size="25" fill="#1e2022" textLength="42.20" lengthAdjust="spacingAndGlyphs">Nev.</text>
<text x="73.40" y="393.50" font-family="Liberation Sans, Arial, sans-serif" font-size="25" fill="#1e2022" textLength="46.70" lengthAdjust="spacingAndGlyphs">Calif.</text>
<text x="209.80" y="422.60" font-family="Liberation Sans, Arial, sans-serif" font-size="25" fill="#1e2022" textLength="42.20" lengthAdjust="spacingAndGlyphs">Ariz.</text>
<text x="429.70" y="296.60" font-family="Liberation Sans, Arial, sans-serif" font-size="25" fill="#1e2022" textLength="43.00" lengthAdjust="spacingAndGlyphs">Neb.</text>
<text x="531.90" y="274.60" font-family="Liberation Sans, Arial, sans-serif" font-size="25" fill="#1e2022" textLength="44.90" lengthAdjust="spacingAndGlyphs">Iowa</text>
<text x="469.50" y="451.40" font-family="Liberation Sans, Arial, sans-serif" font-size="25" fill="#1e2022" textLength="47.70" lengthAdjust="spacingAndGlyphs">Okla.</text>
<text x="391.40" y="544.80" font-family="Liberation Sans, Arial, sans-serif" font-size="25" fill="#1e2022" textLength="54.40" lengthAdjust="spacingAndGlyphs">Texas</text>
<text x="631.00" y="344.50" font-family="Liberation Sans, Arial, sans-serif" font-size="25" fill="#1e2022" textLength="22.50" lengthAdjust="spacingAndGlyphs">Ill.</text>
<text x="676.80" y="335.60" font-family="Liberation Sans, Arial, sans-serif" font-size="25" fill="#1e2022" textLength="35.40" lengthAdjust="spacingAndGlyphs">Ind.</text>
<text x="732.00" y="298.80" font-family="Liberation Sans, Arial, sans-serif" font-size="25" fill="#1e2022" textLength="43.90" lengthAdjust="spacingAndGlyphs">Ohio</text>
<text x="813.30" y="366.10" font-family="Liberation Sans, Arial, sans-serif" font-size="25" fill="#1e2022" textLength="29.90" lengthAdjust="spacingAndGlyphs">Va.</text>
<text x="783.40" y="451.40" font-family="Liberation Sans, Arial, sans-serif" font-size="25" fill="#1e2022" textLength="35.30" lengthAdjust="spacingAndGlyphs">S.C.</text>
<text x="752.50" y="506.00" font-family="Liberation Sans, Arial, sans-serif" font-size="25" fill="#1e2022" textLength="31.50" lengthAdjust="spacingAndGlyphs">Ga.</text>
<text x="171.70" y="163.30" font-family="Liberation Sans, Arial, sans-serif" font-size="24" font-weight="bold" fill="#1e2022" textLength="215.40" lengthAdjust="spacingAndGlyphs">Umatilla County, Ore.</text>
<text x="21.9" y="710.9" font-family="Liberation Sans, Arial, sans-serif" font-size="24" fill="#58595b" textLength="400.3" lengthAdjust="spacingAndGlyphs">Note: County estimates as of July 2025.</text>
<text x="21.8" y="741.6" font-family="Liberation Sans, Arial, sans-serif" font-size="24" fill="#58595b" textLength="239.3" lengthAdjust="spacingAndGlyphs">Source: Goldman Sachs</text>
<text x="4.5" y="18.6" font-family="DejaVu Sans, sans-serif" font-weight="bold" font-size="15" fill="#ffff70" stroke="#111" stroke-width="2.2" stroke-linejoin="round" paint-order="stroke" textLength="240" lengthAdjust="spacing">Archived on meiguo.com</text>
</svg>
</body></html>
